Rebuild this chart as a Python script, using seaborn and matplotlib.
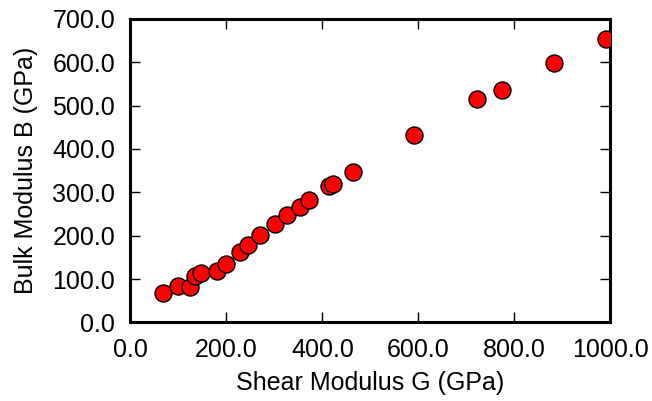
import seaborn as sns
import pandas as pd
import matplotlib
matplotlib.use('Agg')
import matplotlib.pyplot as plt
from matplotlib.ticker import FormatStrFormatter

# values
shear_G = [68.7, 100.0, 124.4, 134.8, 146.6, 180.0, 199.3, 228.5, 245.8, 270.8, 302.0,
           327.0, 353.5, 371.6, 413.3, 422.9, 463.3, 591.6, 722.2, 774.9, 883.2, 990.9]
bulk_B = [66.9, 84.5, 80.8, 107.5, 114.5, 119.0, 134.5, 161.5, 179.0, 200.8, 226.9,
          247.0, 266.8, 282.3, 314.6, 319.2, 347.6, 432.3, 515.3, 535.4, 597.7, 653.1]
x_ticks = [0, 200, 400, 600, 800, 1000]
y_ticks = [0, 100, 200, 300, 400, 500, 600, 700]

df = pd.DataFrame({'G': shear_G, 'B': bulk_B})

sns.set_style('ticks')
plt.rcParams['font.family'] = ['Liberation Sans', 'DejaVu Sans']

fig = plt.figure(figsize=(6.52, 4.01), dpi=100)
ax = fig.add_axes([0.2, 0.196, 0.736, 0.757])
sns.scatterplot(data=df, x='G', y='B', ax=ax, s=150, color='#ff0000',
                edgecolor='black', linewidth=1.0, zorder=3)

ax.set_xlim(0, 1000)
ax.set_ylim(0, 700)
ax.set_xticks(x_ticks)
ax.set_yticks(y_ticks)
ax.xaxis.set_major_formatter(FormatStrFormatter('%.1f'))
ax.yaxis.set_major_formatter(FormatStrFormatter('%.1f'))
ax.tick_params(direction='in', top=True, right=True, length=7, width=1.0,
               labelsize=18, colors='black', pad=11)
for sp in ax.spines.values():
    sp.set_linewidth(2.2)
    sp.set_color('black')
ax.set_xlabel('Shear Modulus G (GPa)', fontsize=18, color='black', labelpad=7)
ax.set_ylabel('Bulk Modulus B (GPa)', fontsize=18, color='black', labelpad=10)

fig.savefig('out.png', dpi=100)
